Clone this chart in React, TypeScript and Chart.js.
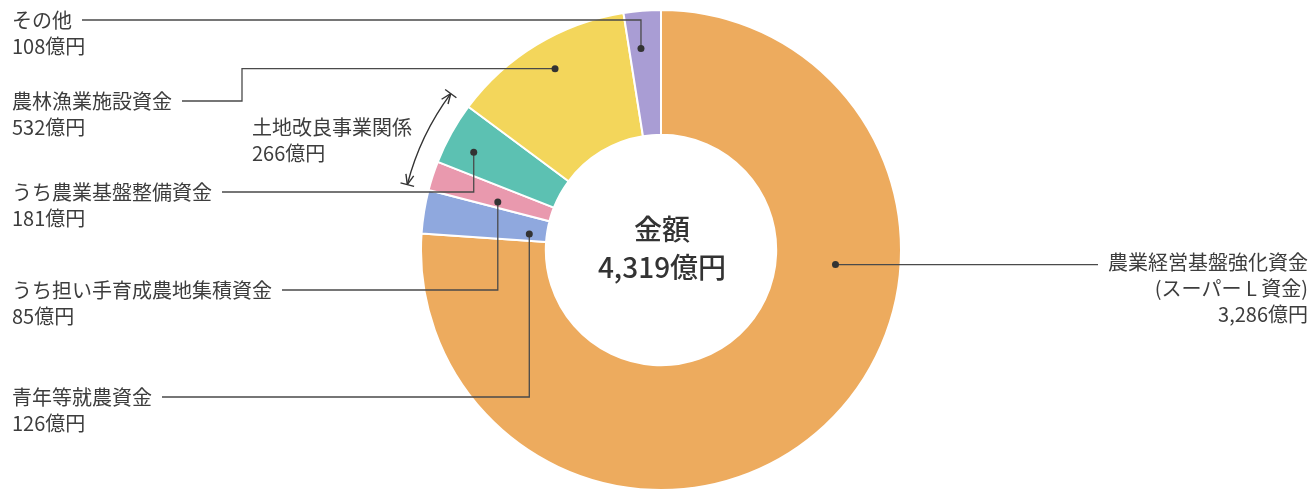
import React, { useEffect, useRef } from "react";
import { Chart, registerables } from "chart.js";

Chart.register(...registerables);

// ---- data ----
const categories = [
  "農業経営基盤強化資金",
  "青年等就農資金",
  "うち担い手育成農地集積資金",
  "うち農業基盤整備資金",
  "農林漁業施設資金",
  "その他",
];
const subLabels = [
  ["(スーパー L 資金)", "3,286億円"],
  ["126億円"],
  ["85億円"],
  ["181億円"],
  ["532億円"],
  ["108億円"],
];
const values = [3286, 126, 85, 181, 532, 108];
const colors = ["#EDAB5E", "#8FA8DE", "#E999AE", "#5CC1B2", "#F3D65B", "#A99DD4"];
const centerTitle = "金額";
const centerTotal = "4,319億円";
const groupLabel = ["土地改良事業関係", "266億円"];
const groupSlices = [2, 3];

// ---- label layout (annotation placement) ----
type Leader = {
  ringFrac: number;
  angFrac: number;
  kind: "h" | "vh" | "hvh";
  textX: number;
  textY: number;
  align: "left" | "right";
  elbowX?: number;
};
const leaders: Leader[] = [
  { ringFrac: 0.48, angFrac: 0.346, kind: "h", textX: 1308, textY: 262, align: "right" },
  { ringFrac: 0.14, angFrac: 0.28, kind: "vh", textX: 12, textY: 397, align: "left" },
  { ringFrac: 0.44, angFrac: 0.27, kind: "vh", textX: 12, textY: 290, align: "left" },
  { ringFrac: 0.77, angFrac: 0.4, kind: "vh", textX: 12, textY: 192, align: "left" },
  { ringFrac: 0.76, angFrac: 0.52, kind: "hvh", textX: 12, textY: 101, align: "left", elbowX: 242 },
  { ringFrac: 0.7, angFrac: 0.37, kind: "vh", textX: 12, textY: 20, align: "left" },
];

const FONT = '"Noto Sans CJK JP", "Noto Sans", sans-serif';
const TEXT_COLOR = "#3d3d3d";
const LINE_COLOR = "#4a4a4a";

const annotationPlugin = {
  id: "annotations",
  afterDraw(chart: any) {
    const ctx: CanvasRenderingContext2D = chart.ctx;
    const arcs = chart.getDatasetMeta(0).data;
    if (!arcs.length) return;
    const first = arcs[0].getProps(["x", "y", "innerRadius", "outerRadius"], true);
    const cx = first.x;
    const cy = first.y;
    ctx.save();
    ctx.font = `20px ${FONT}`;
    ctx.textBaseline = "middle";

    arcs.forEach((arc: any, i: number) => {
      const p = arc.getProps(["startAngle", "endAngle", "innerRadius", "outerRadius"], true);
      const L = leaders[i];
      const a = p.startAngle + (p.endAngle - p.startAngle) * L.angFrac;
      const r = p.innerRadius + (p.outerRadius - p.innerRadius) * L.ringFrac;
      const dx = cx + Math.cos(a) * r;
      const dy = cy + Math.sin(a) * r;
      const lines = [categories[i], ...subLabels[i]];

      // text
      ctx.fillStyle = TEXT_COLOR;
      ctx.textAlign = L.align;
      lines.forEach((t, k) => ctx.fillText(t, L.textX, L.textY + k * 26));
      const w = ctx.measureText(categories[i]).width;

      // leader line
      ctx.strokeStyle = LINE_COLOR;
      ctx.lineWidth = 1.3;
      ctx.beginPath();
      ctx.moveTo(dx, dy);
      if (L.kind === "h") {
        const endX = L.align === "right" ? L.textX - w - 10 : L.textX + w + 10;
        ctx.lineTo(endX, dy);
      } else if (L.kind === "vh") {
        ctx.lineTo(dx, L.textY);
        ctx.lineTo(L.textX + w + 10, L.textY);
      } else {
        const ex = L.elbowX as number;
        ctx.lineTo(ex, dy);
        ctx.lineTo(ex, L.textY);
        ctx.lineTo(L.textX + w + 10, L.textY);
      }
      ctx.stroke();
      ctx.fillStyle = "#333";
      ctx.beginPath();
      ctx.arc(dx, dy, 3.5, 0, Math.PI * 2);
      ctx.fill();
    });

    // group arc with arrows
    const g0 = arcs[groupSlices[0]].getProps(["startAngle", "outerRadius"], true);
    const g1 = arcs[groupSlices[groupSlices.length - 1]].getProps(["endAngle"], true);
    const R = g0.outerRadius + 22;
    const a0 = g0.startAngle;
    const a1 = g1.endAngle;
    ctx.strokeStyle = "#333";
    ctx.lineWidth = 1.4;
    ctx.beginPath();
    ctx.arc(cx, cy, R, a0, a1);
    ctx.stroke();
    const drawEnd = (ang: number, dir: number) => {
      const px = cx + Math.cos(ang) * R;
      const py = cy + Math.sin(ang) * R;
      // radial bar
      const ux = Math.cos(ang);
      const uy = Math.sin(ang);
      ctx.beginPath();
      ctx.moveTo(px - ux * 7, py - uy * 7);
      ctx.lineTo(px + ux * 7, py + uy * 7);
      ctx.stroke();
      // tangent direction (pointing outward along arc)
      const tx = -Math.sin(ang) * dir;
      const ty = Math.cos(ang) * dir;
      const hl = 10;
      const hw = 4;
      ctx.beginPath();
      ctx.moveTo(px, py);
      ctx.lineTo(px - tx * hl + ux * hw, py - ty * hl + uy * hw);
      ctx.moveTo(px, py);
      ctx.lineTo(px - tx * hl - ux * hw, py - ty * hl - uy * hw);
      ctx.stroke();
    };
    drawEnd(a0, -1);
    drawEnd(a1, 1);

    ctx.fillStyle = TEXT_COLOR;
    ctx.font = `20px ${FONT}`;
    ctx.textAlign = "left";
    ctx.fillText(groupLabel[0], 252, 127);
    ctx.fillText(groupLabel[1], 252, 153);

    // center text
    ctx.fillStyle = "#333";
    ctx.font = `500 28px ${FONT}`;
    ctx.textAlign = "center";
    ctx.fillText(centerTitle, cx + 1, cy - 21);
    ctx.fillText(centerTotal, cx + 1, cy + 17);
    ctx.restore();
  },
};

export default function App() {
  const ref = useRef<HTMLCanvasElement>(null);
  useEffect(() => {
    if (!ref.current) return;
    const chart = new Chart(ref.current, {
      type: "doughnut",
      data: {
        labels: categories,
        datasets: [
          {
            data: values,
            backgroundColor: colors,
            borderColor: "#ffffff",
            borderWidth: 2,
          },
        ],
      },
      options: {
        responsive: false,
        animation: false,
        cutout: "48%",
        layout: { padding: { left: 10, right: 0, top: 9, bottom: 0 } },
        plugins: { legend: { display: false }, tooltip: { enabled: false } },
      },
      plugins: [annotationPlugin],
    });
    return () => chart.destroy();
  }, []);
  return (
    <div style={{ position: "fixed", left: 0, top: 0, width: 1312, height: 491, background: "#fff" }}>
      <canvas ref={ref} width={1312} height={491} style={{ display: "block" }} />
    </div>
  );
}
